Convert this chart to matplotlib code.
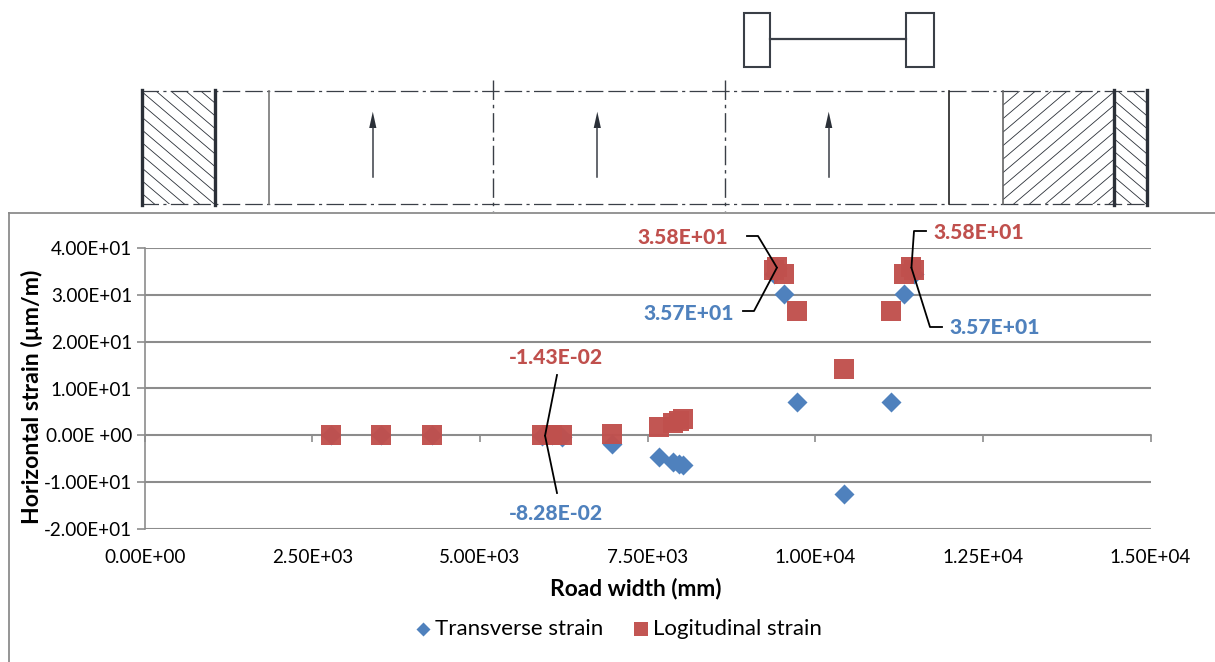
"""Strain across the road width, with the road section sketched above it."""
import matplotlib.pyplot as plt
import numpy as np
from matplotlib.patches import Polygon, Rectangle

W, H = 1215, 662
BLUE = "#4f81bd"
RED = "#c0504d"
GRID = "#8c8c8c"
DARK = "#2b3038"

plt.rcParams["font.family"] = ["Lato", "DejaVu Sans"]

# %% Data
trans_x = [2780, 3525, 4278, 5922, 6075, 6225, 6975, 7676, 7876, 7970, 8025,
           9382, 9427, 9531, 9725, 10431, 11127, 11331, 11435, 11480]
trans_y = [0, 0, 0, -0.08, 0, -0.4, -1.85, -4.7, -5.63, -6.12,
           -6.4, 34.5, 35.7, 30.06, 7.04, -12.45, 7.04, 30.06, 35.7, 34.5]

long_x = [2780, 3525, 4278, 5922, 6075, 6225, 6975, 7676, 7876, 7970, 8025,
          9382, 9427, 9531, 9725, 10431, 11127, 11331, 11435, 11480]
long_y = [-0.01, -0.01, -0.01, -0.014, -0.01, -0.01, 0.35, 1.8, 2.56, 3.05,
          3.41, 35.2, 35.8, 34.5, 26.5, 14.07, 26.5, 34.5, 35.8, 35.2]

x_ticks = [0, 2500, 5000, 7500, 10000, 12500, 15000]
x_labels = ["0.00E+00", "2.50E+03", "5.00E+03", "7.50E+03", "1.00E+04",
            "1.25E+04", "1.50E+04"]
y_ticks = [-20, -10, 0, 10, 20, 30, 40]
y_labels = ["-2.00E+01", "-1.00E+01", "0.00E +00", "1.00E+01", "2.00E+01",
            "3.00E+01", "4.00E+01"]

fig = plt.figure(figsize=(W / 100, H / 100), dpi=100)

# overlay in image pixels, for the sketch, the frame and the leader lines
over = fig.add_axes([0, 0, 1, 1], zorder=3)
over.set_xlim(0, W)
over.set_ylim(H, 0)
over.axis("off")
over.patch.set_alpha(0)

# %% Chart
left, right, top, bottom = 144.7, 1150.5, 247.7, 529.3
ax = fig.add_axes([left / W, 1 - bottom / H, (right - left) / W, (bottom - top) / H], zorder=2)
ax.patch.set_alpha(0)
ax.set_xlim(0, 15000)
ax.set_ylim(-20, 40)
ax.grid(axis="y", color=GRID, lw=1.5)
ax.set_axisbelow(True)
for side in ["top", "right"]:
    ax.spines[side].set_visible(False)
ax.spines["bottom"].set_position(("data", 0))
ax.spines["bottom"].set_color(GRID)
ax.spines["left"].set_color(GRID)
ax.spines["bottom"].set_linewidth(1.2)
ax.spines["left"].set_linewidth(1.2)
ax.set_xticks(x_ticks)
ax.set_xticklabels(x_labels)
ax.set_yticks(y_ticks)
ax.set_yticklabels(y_labels, fontsize=13.6, color="black")
ax.tick_params(axis="y", length=6, color=GRID, width=1.2, pad=3)
ax.tick_params(axis="x", length=5, color=GRID, width=1.2, direction="out", labelbottom=False)
for tx, lab in zip(x_ticks, x_labels):
    ax.annotate(lab, (tx, -20), xytext=(0, -20), textcoords="offset points",
                ha="center", va="center", fontsize=13.6)

ax.scatter(trans_x, trans_y, marker="D", s=104, color=BLUE, linewidths=0, zorder=3,
           clip_on=False, label="Transverse strain")
ax.scatter(long_x, long_y, marker="s", s=226, color=RED, alpha=0.97, linewidths=0, zorder=4,
           clip_on=False, label="Logitudinal strain")

ax.set_xlabel("Road width (mm)", fontsize=16.4, fontweight="bold", va="center")
ax.xaxis.set_label_coords(0.4886, -0.212)
ax.set_ylabel("Horizontal strain (µm/m)", fontsize=16.6, fontweight="bold", va="center")
ax.yaxis.set_label_coords(-0.112, 0.47)

handles, names = ax.get_legend_handles_labels()
fig.legend(handles, names, loc="center", bbox_to_anchor=(616.5 / W, 1 - 629 / H), ncol=2,
           frameon=False, fontsize=16, handlelength=1.1, handletextpad=0.0,
           columnspacing=1.15, markerscale=0.7, borderpad=0)


def to_px(x, y):
    """Data position of a point as overlay pixels."""
    return (left + (right - left) * x / 15000, bottom - (bottom - top) * (y + 20) / 60)


# %% Data labels and their leaders
labels = [
    ("3.58E+01", RED, 683, 237.7, (9427, 35.8), [(758, 236), (747, 236)]),
    ("3.57E+01", BLUE, 689, 313, (9427, 35.7), [(754, 311), (743, 311)]),
    ("3.58E+01", RED, 979, 232.7, (11435, 35.8), [(914, 231), (926, 231)]),
    ("3.57E+01", BLUE, 995, 328, (11435, 35.7), [(930, 327), (942, 327)]),
    ("-1.43E-02", RED, 556, 357.5, (5971, -0.014), [(557, 375)]),
    ("-8.28E-02", BLUE, 556, 513, (5971, -0.083), [(557, 493)]),
]
for text, col, tx, ty, anchor, elbow in labels:
    over.text(tx, ty, text, color=col, fontsize=15.2, fontweight="black", ha="center", va="center")
    pts = [to_px(*anchor)] + elbow
    over.plot([p[0] for p in pts], [p[1] for p in pts], color="black", lw=1.3)

# %% Chart frame
over.plot([9, 9, None, 9, W], [H, 212.7, None, 212.7, 212.7], color=GRID, lw=1.3)

# %% Road section sketch
road_top, road_bot = 90.7, 204.3


def hatch(x0, x1, slope, step=12.7):
    """Diagonal hatch lines clipped to a band of the road."""
    clip = Rectangle((x0, road_top), x1 - x0, road_bot - road_top, transform=over.transData)
    span = (x1 - x0) * abs(slope)
    for c in np.arange(road_top - span, road_bot + span, step):
        line, = over.plot([x0, x1], [c, c + slope * (x1 - x0)], color=DARK, lw=0.6)
        line.set_clip_path(clip)


hatch(141.7, 215.4, 0.85)
hatch(1003.3, 1113.7, -0.85, step=13.5)
hatch(1113.7, 1147.3, 0.85)

for y in [road_top, road_bot]:
    over.plot([141, 1148], [y, y], color="#3a3f47", lw=0.9, dashes=(14, 3.5, 2.5, 3.5, 14, 4))

for x in [141.7, 215.4, 1113.7, 1147.3]:
    over.plot([x, x], [road_top - 1, road_bot + 1], color=DARK, lw=2.4)
for x, col in [(269, "#777777"), (949.3, "#222222"), (1003.3, "#666666")]:
    over.plot([x, x], [road_top, road_bot], color=col, lw=1.2)
for x in [493.3, 725]:
    over.plot([x, x], [80, 210.7], color="#3a3f47", lw=1.0, dashes=(14, 3.5, 2.5, 3.5))

for x in [372.8, 597.3, 828.7]:
    over.plot([x, x], [128, 176.7], color="#3a3f47", lw=1.1)
    over.add_patch(Polygon([(x, 111.7), (x - 3.6, 128), (x + 3.6, 128)], color=DARK, lw=0))

# axle above the section
over.add_patch(Rectangle((744, 12.7), 26, 54.3, fill=False, ec="#3a3f47", lw=1.5))
over.add_patch(Rectangle((906, 12.7), 28, 54.3, fill=False, ec="#3a3f47", lw=1.5))
over.plot([770, 906], [39.3, 39.3], color="#3a3f47", lw=1.6)

fig.savefig("out.png", dpi=100)
